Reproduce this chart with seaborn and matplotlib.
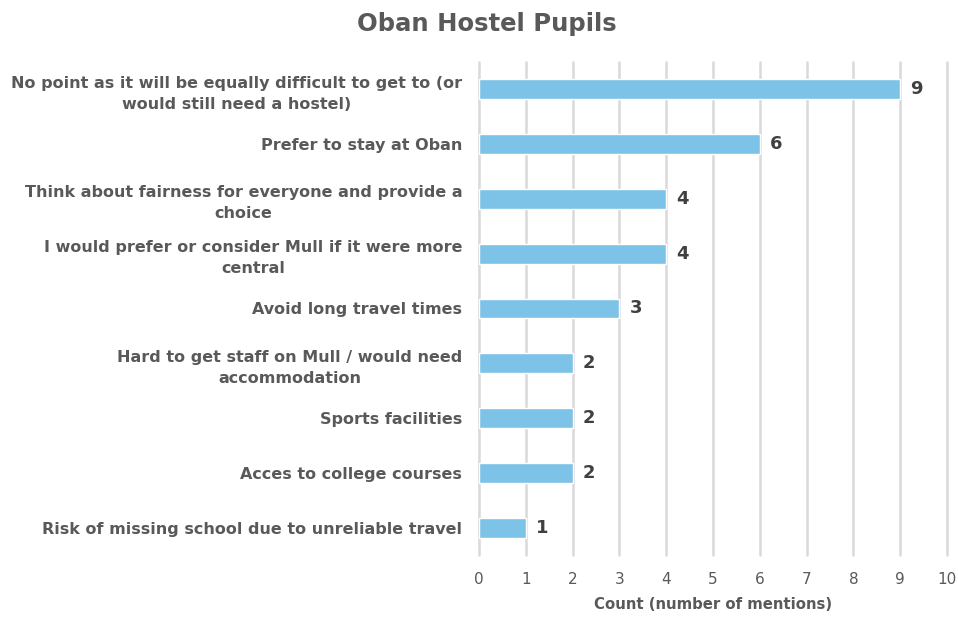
"""Oban Hostel Pupils - horizontal bar chart"""

import pandas as pd
import matplotlib.pyplot as plt
import seaborn as sns

REASONS = [
    'No point as it will be equally difficult to get to (or\nwould still need a hostel)',
    'Prefer to stay at Oban',
    'Think about fairness for everyone and provide a\nchoice',
    'I would prefer or consider Mull if it were more\ncentral',
    'Avoid long travel times',
    'Hard to get staff on Mull / would need\naccommodation',
    'Sports facilities',
    'Acces to college courses',
    'Risk of missing school due to unreliable travel',
]
COUNTS = [9, 6, 4, 4, 3, 2, 2, 2, 1]
X_TICKS = list(range(0, 11))

BAR_COLOR = '#7DC3E8'
TEXT_COLOR = '#595959'
GRID_COLOR = '#D9D9D9'

sns.set_style('white')
plt.rcParams['font.family'] = ['DejaVu Sans']

df = pd.DataFrame({'reason': REASONS, 'count': COUNTS})

fig = plt.figure(figsize=(9.58, 6.17), dpi=100)
ax = fig.add_axes([0.5, 0.1, 0.4885, 0.8])

ax.set_axisbelow(True)
ax.xaxis.grid(True, color=GRID_COLOR, linewidth=1.8)
sns.barplot(data=df, x='count', y='reason', color=BAR_COLOR, width=0.36,
            saturation=1, ax=ax)

# value labels at bar ends
for i, v in enumerate(COUNTS):
    ax.text(v + 0.22, i, str(v), va='center', ha='left', fontsize=13,
            fontweight='bold', color='#404040')

ax.set_xlim(0, 10)
ax.set_xticks(X_TICKS)
ax.set_ylim(len(REASONS) - 0.5, -0.5)
for gl in ax.get_xgridlines():
    gl.set_clip_on(False)
ax.tick_params(axis='x', colors=TEXT_COLOR, labelsize=11, length=0, pad=12)
ax.tick_params(axis='y', colors=TEXT_COLOR, length=0, pad=12)
for lbl in ax.get_yticklabels():
    lbl.set_fontweight('bold')
    lbl.set_fontsize(11.5)
    lbl.set_multialignment('center')
    lbl.set_linespacing(1.5)
    lbl.set_color(TEXT_COLOR)

for s in ax.spines.values():
    s.set_visible(False)

ax.set_ylabel('')
ax.set_xlabel('Count (number of mentions)', color=TEXT_COLOR, fontsize=10.7,
              fontweight='bold', labelpad=7)
fig.suptitle('Oban Hostel Pupils', x=0.508, y=0.98, fontsize=17.5,
             fontweight='bold', color=TEXT_COLOR)

fig.savefig('out.png', dpi=100)
plt.close(fig)
